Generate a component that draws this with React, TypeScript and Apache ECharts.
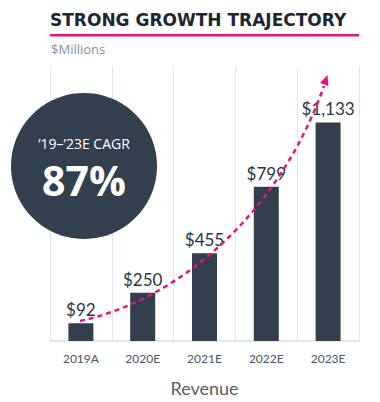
import React, { useEffect, useRef } from "react";
import * as echarts from "echarts";

const categories = ["2019A", "2020E", "2021E", "2022E", "2023E"];
const revenue = [92, 250, 455, 799, 1133];
const labels = ["$92", "$250", "$455", "$799", "$1,133"];
const titleText = "STRONG GROWTH TRAJECTORY";
const unitText = "$Millions";
const cagrLabel = "\u201919\u2013\u201923E CAGR";
const cagrValue = "87%";
const axisName = "Revenue";

export default function App() {
  const ref = useRef<HTMLDivElement>(null);
  useEffect(() => {
    document.body.style.margin = "0";
    if (!ref.current) return;
    const chart = echarts.init(ref.current, null, { renderer: "svg" });
    const pink = "#e8127f";
    chart.setOption({
      animation: false,
      backgroundColor: "#ffffff",
      grid: { left: 50, right: 21, top: 67, bottom: 59 },
      xAxis: {
        type: "category",
        data: categories,
        axisLine: { show: true, lineStyle: { color: "#d6dee8", width: 1.5 } },
        axisTick: { show: false },
        splitLine: { show: true, lineStyle: { color: "#e1e7ef", width: 1 } },
        axisLabel: {
          color: "#4a5563",
          fontSize: 12,
          fontFamily: "Lato",
          margin: 11,
        },
        name: axisName,
        nameLocation: "middle",
        nameGap: 38,
        nameTextStyle: { color: "#555f6b", fontSize: 18, fontFamily: "Lato" },
      },
      yAxis: {
        type: "value",
        min: 0,
        max: 1420,
        show: false,
        splitLine: { show: false },
      },
      series: [
        {
          type: "bar",
          data: revenue,
          barWidth: 25,
          itemStyle: { color: "#333f4c" },
          label: {
            show: true,
            position: "top",
            distance: 5,
            fontSize: 17,
            fontFamily: "Lato",
            color: "#2b3540",
            formatter: (p: any) => labels[p.dataIndex],
          },
          z: 2,
        },
      ],
      graphic: [
        {
          type: "text",
          left: 50,
          top: 11,
          style: {
            text: titleText,
            fontFamily: "DejaVu Sans",
            fontWeight: "bold",
            fontSize: 17,
            fill: "#1c2733",
          },
        },
        {
          type: "rect",
          shape: { x: 50, y: 34, width: 309, height: 2.5 },
          style: { fill: pink },
        },
        {
          type: "text",
          left: 51,
          top: 42,
          style: {
            text: unitText,
            fontFamily: "Open Sans",
            fontSize: 13,
            fill: "#8090a6",
          },
        },
        {
          type: "circle",
          shape: { cx: 84, cy: 166, r: 73 },
          style: { fill: "#323f4d" },
          z: 10,
        },
        {
          type: "text",
          x: 84,
          y: 143,
          style: {
            text: cagrLabel,
            fontFamily: "Open Sans",
            fontSize: 14,
            fill: "#ffffff",
            align: "center",
            verticalAlign: "middle",
          },
          z: 11,
        },
        {
          type: "text",
          x: 84,
          y: 180,
          style: {
            text: cagrValue,
            fontFamily: "Open Sans",
            fontWeight: "bold",
            fontSize: 41,
            fill: "#ffffff",
            align: "center",
            verticalAlign: "middle",
          },
          z: 11,
        },
        {
          type: "bezierCurve",
          shape: {
            x1: 80,
            y1: 321,
            cpx1: 185,
            cpy1: 298,
            cpx2: 281,
            cpy2: 208,
            x2: 324,
            y2: 86,
          },
          style: {
            stroke: pink,
            lineWidth: 2.5,
            lineDash: [5, 4],
            fill: null,
          },
          z: 12,
        },
        {
          type: "polygon",
          shape: {
            points: [
              [327.5, 75],
              [328.4, 86],
              [320, 83],
            ],
          },
          style: { fill: pink },
          z: 12,
        },
      ],
    });
    return () => chart.dispose();
  }, []);
  return <div ref={ref} style={{ width: 380, height: 402 }} />;
}
